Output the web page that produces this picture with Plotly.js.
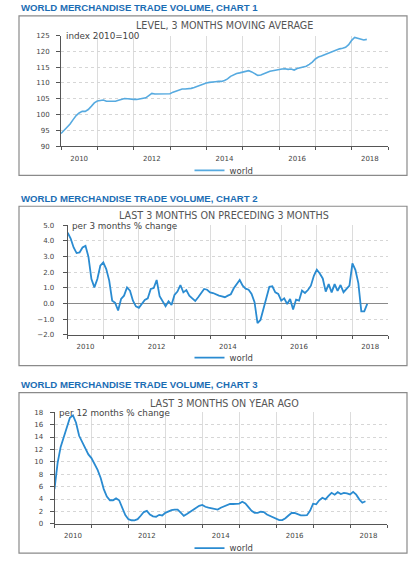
<!DOCTYPE html>
<html>
<head>
<meta charset="utf-8">
<script src="https://cdn.plot.ly/plotly-3.0.1.min.js"></script>
<style>
html,body{margin:0;padding:0;background:#fff;}
#chart{width:419px;height:563px;}
</style>
</head>
<body>
<div id="chart"></div>
<script>
// ---------- DATA (monthly, starting January 2010) ----------
const startYear = 2010;
const seriesName = "world";

// Chart 1: level, 3 months moving average (index 2010=100)
const levelIndex = [
  94.0, 95.0, 96.0, 97.0, 98.4, 99.7, 100.5, 101.0, 101.0, 101.6, 102.6, 103.7,
  104.3, 104.4, 104.6, 104.2, 104.2, 104.4, 104.2, 104.5, 104.9, 105.1, 105.0, 104.8,
  104.8, 104.8, 104.9, 105.1, 105.3, 106.0, 106.7, 106.5, 106.5, 106.5, 106.5, 106.4,
  106.6, 107.1, 107.4, 107.8, 108.1, 108.1, 108.1, 108.3, 108.6, 109.0, 109.4, 109.8,
  110.0, 110.2, 110.4, 110.4, 110.5, 110.5, 110.8, 111.3, 112.1, 112.6, 113.0, 113.2,
  113.4, 113.8, 113.9, 113.5, 112.9, 112.4, 112.5, 113.0, 113.3, 113.7, 113.9, 114.2,
  114.3, 114.4, 114.5, 114.3, 114.4, 114.1, 114.6, 114.8, 115.0, 115.3, 115.9, 116.6,
  117.6, 118.2, 118.5, 118.9, 119.2, 119.5, 119.9, 120.4, 120.8, 121.0, 121.3, 122.1,
  123.5, 124.4, 124.2, 123.9, 123.6, 123.8
];

// Chart 2: last 3 months on preceding 3 months (% change)
const change3m = [
  4.53, 4.15, 3.58, 3.22, 3.26, 3.58, 3.68, 2.98, 1.56, 1.03, 1.56, 2.41,
  2.62, 2.20, 1.46, 0.18, 0.04, -0.45, 0.29, 0.50, 1.03, 0.82, 0.18, -0.18,
  -0.28, -0.03, 0.23, 0.33, 0.93, 0.99, 1.50, 0.46, 0.18, -0.18, 0.14, -0.09,
  0.55, 0.76, 1.18, 0.71, 0.86, 0.50, 0.33, 0.16, 0.40, 0.71, 0.93, 0.88,
  0.71, 0.67, 0.57, 0.50, 0.46, 0.40, 0.50, 0.59, 0.97, 1.26, 1.50, 1.14,
  0.95, 0.88, 0.61, 0.08, -1.25, -1.05, -0.35, 0.50, 1.07, 1.10, 0.71, 0.61,
  0.18, 0.33, -0.03, 0.29, -0.39, 0.25, 0.18, 0.82, 0.67, 0.86, 1.14, 1.77,
  2.16, 1.92, 1.60, 0.76, 1.24, 0.71, 1.24, 0.80, 1.18, 0.72, 0.95, 1.14,
  2.56, 2.15, 1.30, -0.50, -0.50, -0.02
];

// Chart 3: last 3 months on year ago (% change)
const change12m = [
  5.6, 9.8, 12.4, 14.0, 15.6, 17.1, 17.5, 16.3, 14.2, 13.2, 12.2, 11.2,
  10.6, 9.7, 8.7, 7.4, 5.6, 4.4, 3.8, 3.8, 4.1, 3.8, 2.5, 1.4,
  0.75, 0.58, 0.55, 0.75, 1.3, 1.9, 2.1, 1.5, 1.2, 1.15, 1.45, 1.35,
  1.77, 2.05, 2.2, 2.3, 2.3, 1.8, 1.3, 1.6, 1.9, 2.3, 2.6, 2.9,
  3.05, 2.75, 2.6, 2.5, 2.4, 2.3, 2.6, 2.8, 3.05, 3.2, 3.2, 3.25,
  3.27, 3.55, 3.3, 2.7, 2.1, 1.77, 1.77, 1.95, 1.9, 1.5, 1.25, 1.08,
  0.8, 0.6, 0.6, 0.9, 1.35, 1.75, 1.75, 1.55, 1.38, 1.35, 1.4, 2.1,
  3.25, 3.15, 3.8, 4.2, 3.95, 4.5, 5.0, 4.7, 5.1, 4.8, 5.0, 4.9,
  4.75, 5.15, 4.7, 3.95, 3.4, 3.65
];

// Axis labels
const yearTickPos = [2010.5, 2012.5, 2014.5, 2016.5, 2018.5];
const yearTickText = ["2010", "2012", "2014", "2016", "2018"];
const yearBoundaries = [2010, 2011, 2012, 2013, 2014, 2015, 2016, 2017, 2018, 2019];

// Text
const headings = [
  "WORLD MERCHANDISE TRADE VOLUME, CHART 1",
  "WORLD MERCHANDISE TRADE VOLUME, CHART 2",
  "WORLD MERCHANDISE TRADE VOLUME, CHART 3"
];
const subtitles = [
  "LEVEL, 3 MONTHS MOVING AVERAGE",
  "LAST 3 MONTHS ON PRECEDING 3 MONTHS",
  "LAST 3 MONTHS ON YEAR AGO"
];
const unitNotes = ["index 2010=100", "per 3 months % change", "per 12 months % change"];

// ---------- LAYOUT HELPERS ----------
const W = 419, H = 563;
const px = v => v / W;
const py = v => 1 - v / H;
const months = arr => arr.map((_, i) => startYear + i / 12);

const smallFont = {family: "DejaVu Sans, Liberation Sans, Arial, sans-serif", size: 7, color: "#444"};
const headFont = {family: "Liberation Sans, Arial, sans-serif", size: 9.6, color: "#1b6db4", weight: "bold"};

function xAxis(domain, anchor) {
  return {
    domain: domain, anchor: anchor, range: [2010, 2019],
    showline: true, linecolor: "#555", linewidth: 1,
    tickmode: "array", tickvals: yearTickPos, ticktext: yearTickText,
    ticks: "", showgrid: false, zeroline: false,
    tickfont: smallFont, ticklabelstandoff: 5,
    minor: {tickmode: "array", tickvals: yearBoundaries, ticks: "outside", ticklen: 3,
            tickcolor: "#555", tickwidth: 1, showgrid: true, gridcolor: "#dcdcdc",
            gridwidth: 1, griddash: "solid"},
    fixedrange: true
  };
}
function yAxis(domain, anchor, range, dtick, fmt, standoff) {
  return {
    domain: domain, anchor: anchor, range: range, tickmode: "linear", tick0: range[0], dtick: dtick,
    tickformat: fmt, showline: true, linecolor: "#555", linewidth: 1,
    ticks: "outside", ticklen: 4, tickcolor: "#555", ticklabelstandoff: standoff,
    showgrid: true, gridcolor: "#d6d6d6", griddash: "dot", gridwidth: 1,
    zeroline: false, tickfont: smallFont, fixedrange: true
  };
}

const traces = [
  {x: months(levelIndex), y: levelIndex, type: "scatter", mode: "lines", name: seriesName,
   xaxis: "x", yaxis: "y", legend: "legend", line: {color: "#56aae0", width: 1.6}},
  {x: months(change3m), y: change3m, type: "scatter", mode: "lines", name: seriesName,
   xaxis: "x2", yaxis: "y2", legend: "legend2", line: {color: "#2a8bd1", width: 1.8}},
  {x: months(change12m), y: change12m, type: "scatter", mode: "lines", name: seriesName,
   xaxis: "x3", yaxis: "y3", legend: "legend3", line: {color: "#2a8bd1", width: 1.8}}
];

const boxes = [[16, 176], [207, 367], [394, 555]];
const headY = [8, 199, 386];
const subY = [26, 216.5, 404.5];
const noteX = [64, 70, 57];
const noteY = [36, 226.5, 414];
const legY = [171, 359, 550];

const shapes = boxes.map(b => ({
  type: "rect", xref: "paper", yref: "paper",
  x0: px(19), x1: px(407), y0: py(b[1]), y1: py(b[0]),
  line: {color: "#8a8a8a", width: 1.2}, fillcolor: "rgba(0,0,0,0)", layer: "below"
}));
const annotations = [];
for (let i = 0; i < 3; i++) {
  annotations.push({text: headings[i], xref: "paper", yref: "paper", x: px(19), y: py(headY[i]),
    xanchor: "left", yanchor: "middle", showarrow: false, font: headFont});
  annotations.push({text: subtitles[i], xref: "paper", yref: "paper", x: px(224), y: py(subY[i]),
    xanchor: "center", yanchor: "middle", showarrow: false,
    font: {family: "DejaVu Sans, sans-serif", size: 9.6, color: "#555"}});
  annotations.push({text: unitNotes[i], xref: "paper", yref: "paper", x: px(noteX[i]), y: py(noteY[i]),
    xanchor: "left", yanchor: "middle", showarrow: false,
    font: {family: "DejaVu Sans, sans-serif", size: 8.8, color: "#444"}});
}

function legendCfg(y) {
  return {x: px(224), xanchor: "center", y: py(y), yanchor: "middle", orientation: "h",
    bgcolor: "rgba(0,0,0,0)", borderwidth: 0, itemwidth: 30,
    font: {family: "DejaVu Sans, sans-serif", size: 8.5, color: "#444"}};
}

const layout = {
  width: W, height: H, margin: {l: 0, r: 0, t: 0, b: 0},
  paper_bgcolor: "#fff", plot_bgcolor: "#fff", showlegend: true,
  xaxis: xAxis([px(61), px(388)], "y"),
  yaxis: yAxis([py(146.7), py(35.7)], "x", [90, 125], 5, "d", 5),
  xaxis2: xAxis([px(67.7), px(388)], "y2"),
  yaxis2: Object.assign(yAxis([py(336), py(226)], "x2", [-2, 5], 1, ".1f", 7),
                        {zeroline: true, zerolinecolor: "#8a8a8a", zerolinewidth: 1}),
  xaxis3: xAxis([px(54.5), px(387)], "y3"),
  yaxis3: yAxis([py(525.7), py(413.7)], "x3", [0, 18], 2, "d", 5),
  legend: legendCfg(legY[0]),
  legend2: legendCfg(legY[1]),
  legend3: legendCfg(legY[2]),
  shapes: shapes,
  annotations: annotations
};

Plotly.newPlot("chart", traces, layout, {displayModeBar: false, staticPlot: true});
</script>
</body>
</html>
